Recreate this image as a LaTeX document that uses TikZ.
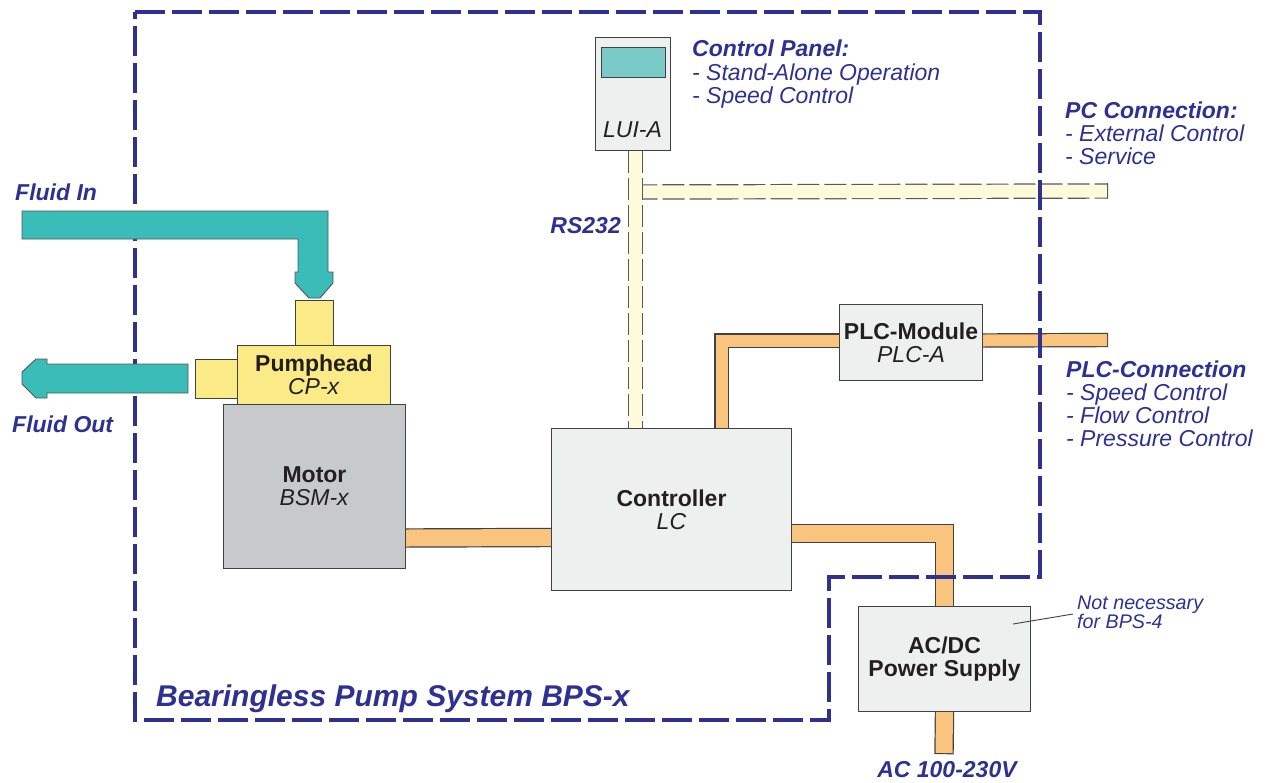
\documentclass[tikz,border=0pt]{standalone}
\usepackage{fontspec}
\setmainfont{Liberation Sans}
\usetikzlibrary{calc}
\pgfdeclarelayer{bg}
\pgfsetlayers{bg,main}
\definecolor{blueT}{HTML}{2E3192}
\definecolor{tealc}{HTML}{3ABDB8}
\definecolor{tealline}{HTML}{555555}
\definecolor{yel}{HTML}{FAEB87}
\definecolor{orng}{HTML}{F9C47D}
\definecolor{motorgray}{HTML}{C8C9CB}
\definecolor{boxfill}{HTML}{EEF0EF}
\definecolor{boxline}{HTML}{414042}
\definecolor{txtc}{HTML}{231F20}
\definecolor{screenc}{HTML}{7ACBC7}
\definecolor{rsyel}{HTML}{FFFAD9}
\definecolor{dashgray}{HTML}{58595B}
\begin{document}
\begin{tikzpicture}[x=1pt,y=-1pt,
  unitbox/.style={draw=boxline, line width=1pt, fill=boxfill, inner sep=0pt, align=center, text=txtc, font=\fontsize{23}{23}\selectfont, anchor=north west},
  bluelbl/.style={text=blueT, anchor=base west, inner sep=0pt, font=\fontsize{23}{23}\selectfont\itshape},
  boundary/.style={draw=blueT, line width=3.1pt, dash pattern=on 30pt off 7pt},
  fluid/.style={fill=tealc, draw=tealline, line width=0.9pt, line join=miter},
  ybo/.style={draw=dashgray, line width=15.4pt, dash pattern=on 22pt off 5pt},
  ybi/.style={draw=rsyel, line width=13pt},
  obo/.style={draw=boxline, line width=19.4pt, line join=miter},
  obi/.style={draw=orng, line width=17pt, line join=miter},
  nbo/.style={draw=boxline, line width=14.4pt, line join=miter},
  nbi/.style={draw=orng, line width=12pt, line join=miter},
  freeend/.style={shorten >=-1.2pt}
]
\useasboundingbox (0,0) rectangle (1265,782);

% boundary
\draw[boundary] (135,12) -- (1040,12) -- (1040,577) -- (829,577) -- (829,720) -- (135,720) -- cycle;

% fluid arrows
\draw[fluid] (22,211) -- (328,211) -- (328,272) -- (333,272) -- (333,283) -- (320,298) -- (309,298) -- (295,283) -- (295,272) -- (298,272) -- (298,239) -- (22,239) -- cycle;
\draw[fluid] (188,364) -- (47,364) -- (47,359) -- (36,359) -- (22,372) -- (22,384) -- (36,398) -- (47,398) -- (47,393) -- (188,393) -- cycle;

% boxes
\node[unitbox, fill=yel, minimum width=38pt, minimum height=45pt] (pin) at (295,300) {};
\node[unitbox, fill=yel, minimum width=42pt, minimum height=39pt] (pout) at (195,359) {};
\node[unitbox, fill=yel, minimum width=153pt, minimum height=59pt] (pump) at (237,345) {\textbf{Pumphead}\\\textit{CP-x}};
\node[unitbox, fill=motorgray, minimum width=182pt, minimum height=164pt] (motor) at (223,404) {\textbf{Motor}\\\textit{BSM-x}};
\node[unitbox, minimum width=240pt, minimum height=162pt] (ctrl) at (551,428) {\textbf{Controller}\\\textit{LC}};
\node[unitbox, minimum width=143pt, minimum height=76pt] (plc) at (839,304) {\textbf{PLC-Module}\\\textit{PLC-A}};
\node[unitbox, minimum width=172pt, minimum height=105pt] (psu) at (858,606) {\textbf{AC/DC}\\\textbf{Power Supply}};
\node[unitbox, minimum width=75pt, minimum height=113pt] (lui) at (595,37) {};
\node[unitbox, fill=screenc, minimum width=64pt, minimum height=30pt] (scr) at (601,47) {};
\node[anchor=base, inner sep=0pt, text=txtc, font=\fontsize{23}{23}\selectfont\itshape] (luilbl) at (632.5,137) {LUI-A};

% free ends
\coordinate (pcend) at (1107,191);
\coordinate (plcend) at (1107,340);
\coordinate (acend) at (944,753);
\coordinate (rsj) at ($(lui.south)+(2.5,41)$);
\coordinate (notept) at (1073,614);

\begin{pgfonlayer}{bg}
  % PC bus
  \draw[ybo, freeend] (rsj) -- (pcend);
  \draw[ybi] (rsj) -- (pcend);
  \draw[dashgray, line width=1.2pt] ($(pcend)+(0.6,-7.7)$) -- ($(pcend)+(0.6,7.7)$);
  % RS232 bus
  \draw[ybo] ($(lui.south)+(2.5,0)$) -- ($(ctrl.north)+(-36,0)$);
  \draw[ybi] ($(lui.south)+(2.5,0)$) -- ($(ctrl.north)+(-36,0)$);
  % motor - controller
  \draw[obo] ($(motor.east)+(0,51.5)$) -- ($(ctrl.west)+(0,28)$);
  \draw[obi] ($(motor.east)+(0,51.5)$) -- ($(ctrl.west)+(0,28)$);
  % controller - PLC
  \draw[nbo] ($(ctrl.north)+(50,0)$) |- ($(plc.west)+(0,-2)$);
  \draw[nbi] ($(ctrl.north)+(50,0)$) |- ($(plc.west)+(0,-2)$);
  \draw[nbo, freeend] ($(plc.east)+(0,-2)$) -- (plcend);
  \draw[nbi] ($(plc.east)+(0,-2)$) -- (plcend);
  % controller - PSU
  \draw[obo] ($(ctrl.east)+(0,24)$) -| (psu.north);
  \draw[obi] ($(ctrl.east)+(0,24)$) -| (psu.north);
  \draw[obo, freeend] (psu.south) -- (acend);
  \draw[obi] (psu.south) -- (acend);
\end{pgfonlayer}

% note line
\draw[boxline, line width=0.9pt] ($(psu.north east)+(-18,18)$) -- (notept);

% labels
\node[bluelbl] (fin) at (15,200) {\bfseries Fluid In};
\node[bluelbl] (fout) at (12,432) {\bfseries Fluid Out};
\node[bluelbl] (cp0) at (692,56) {\bfseries Control Panel:};
\node[bluelbl] (cp1) at (692,80) {- Stand-Alone Operation};
\node[bluelbl] (cp2) at (692,103) {- Speed Control};
\node[bluelbl] (pc0) at (1065,118) {\bfseries PC Connection:};
\node[bluelbl] (pc1) at (1065,141) {- External Control};
\node[bluelbl] (pc2) at (1065,164) {- Service};
\node[bluelbl, anchor=base east] (rs) at (621,233) {\bfseries RS232};
\node[bluelbl] (plcc0) at (1066,377) {\bfseries PLC-Connection};
\node[bluelbl] (plcc1) at (1066,400) {- Speed Control};
\node[bluelbl] (plcc2) at (1066,423) {- Flow Control};
\node[bluelbl] (plcc3) at (1066,446) {- Pressure Control};
\node[bluelbl, anchor=base] (ac) at (947,777) {\bfseries AC 100-230V};
\node[bluelbl, font=\fontsize{19.7}{19.7}\selectfont\itshape] (nt1) at (1077,609) {Not necessary};
\node[bluelbl, font=\fontsize{19.7}{19.7}\selectfont\itshape] (nt2) at (1077,628) {for BPS-4};
\node[bluelbl, font=\fontsize{30}{30}\selectfont\itshape] (title) at (156,706) {\bfseries Bearingless Pump System BPS-x};
\end{tikzpicture}
\end{document}
